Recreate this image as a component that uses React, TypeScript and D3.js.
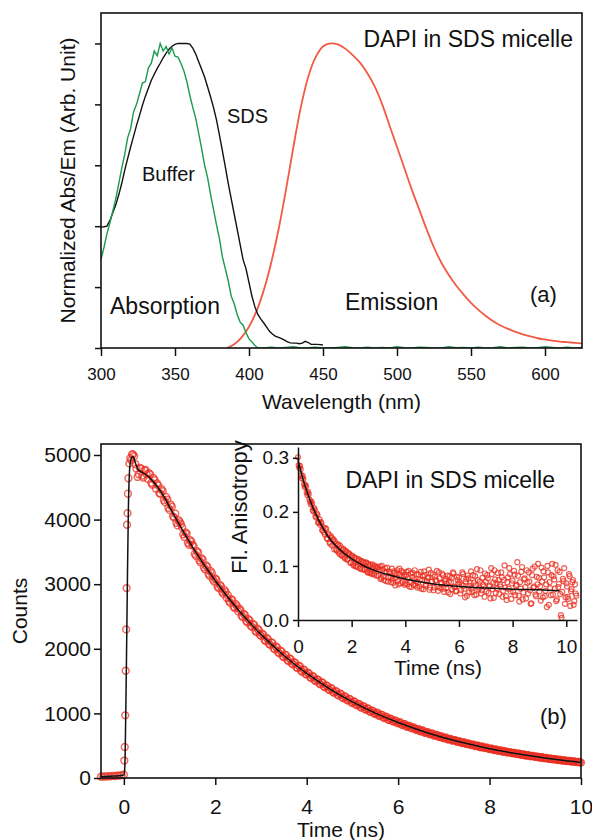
import { useEffect, useRef } from 'react'
import * as d3 from 'd3'

const FONT = "'Liberation Sans', Arial, Helvetica, sans-serif"
const RED = '#ea2c1e'

// ---- panel (a): normalized absorption / emission ----
const wlTicks = [300, 350, 400, 450, 500, 550, 600]
const normTicks = [0, 0.2, 0.4, 0.6, 0.8, 1.0]

// SDS absorption, 300-450 nm every 2 nm
const sdsAbs = [
    0.397, 0.398, 0.400, 0.418, 0.445, 0.470, 0.503, 0.540, 0.583, 0.622,
    0.660, 0.695, 0.731, 0.763, 0.797, 0.827, 0.853, 0.879, 0.899, 0.918,
    0.935, 0.953, 0.968, 0.981, 0.991, 0.997, 1.0, 1.0, 1.0, 1.0,
    0.998, 0.985, 0.965, 0.940, 0.915, 0.890, 0.858, 0.825, 0.790, 0.750,
    0.700, 0.648, 0.595, 0.540, 0.490, 0.440, 0.390, 0.340, 0.290, 0.260,
    0.215, 0.170, 0.135, 0.110, 0.095, 0.082, 0.068, 0.054, 0.045, 0.038,
    0.035, 0.031, 0.026, 0.020, 0.017, 0.016, 0.016, 0.014, 0.016, 0.022,
    0.018, 0.012, 0.012, 0.012, 0.011, 0.010
]
// buffer absorption, 300-406 nm every 2 nm
const bufferAbs = [
    0.290, 0.330, 0.375, 0.410, 0.450, 0.490, 0.540, 0.590, 0.635, 0.690,
    0.720, 0.775, 0.800, 0.835, 0.870, 0.875, 0.920, 0.935, 0.975, 0.960,
    1.0, 0.975, 0.990, 0.965, 0.985, 0.958, 0.955, 0.935, 0.910, 0.875,
    0.830, 0.790, 0.755, 0.705, 0.655, 0.600, 0.560, 0.505, 0.455, 0.405,
    0.360, 0.300, 0.260, 0.220, 0.170, 0.145, 0.110, 0.085, 0.075, 0.050,
    0.030, 0.020, 0.008, 0.0
]
// buffer baseline, 410-625 nm every 5 nm
const bufferTail = [
    0, 0.003, 0, 0.002, 0.004, 0, 0.001, 0.003, 0, 0,
    0.002, 0.004, 0.001, 0, 0.003, 0, 0.002, 0, 0.004, 0.001,
    0, 0.003, 0.002, 0, 0, 0.004, 0.001, 0.002, 0, 0.003,
    0, 0.001, 0.004, 0, 0.002, 0.003, 0, 0.001, 0.004, 0.002,
    0, 0.003, 0, 0.002
]
// emission, 385-625 nm every 5 nm
const emission = [
    0, 0.012, 0.035, 0.070, 0.120, 0.190, 0.280, 0.390, 0.520, 0.660,
    0.790, 0.890, 0.955, 0.990, 1.0, 0.997, 0.983, 0.962, 0.937, 0.902,
    0.858, 0.800, 0.730, 0.660, 0.590, 0.520, 0.455, 0.390, 0.330, 0.280,
    0.240, 0.205, 0.175, 0.148, 0.125, 0.105, 0.088, 0.074, 0.063, 0.053,
    0.045, 0.038, 0.032, 0.028, 0.024, 0.021, 0.019, 0.017, 0.015
]

// ---- panel (b): fluorescence decay ----
const timeTicks = [0, 2, 4, 6, 8, 10]
const countTicks = [0, 1000, 2000, 3000, 4000, 5000]

// baseline, -0.5 to 0 ns every 0.05 ns
const baseCounts = [20, 24, 22, 28, 26, 32, 30, 36, 38, 44, 52]
const riseTimes = [0.01, 0.02, 0.03, 0.04, 0.05, 0.06, 0.07, 0.08, 0.09, 0.1, 0.12, 0.14, 0.16, 0.18]
const riseCounts = [270, 480, 970, 1660, 2300, 2940, 3920, 4100, 4400, 4640, 4870, 4950, 4920, 5010]
// 0.2 to 10 ns every 0.05 ns
const decayCounts = [
    5010, 4860, 4660, 4800, 4680, 4760,
    4700, 4720, 4570, 4640, 4480, 4530, 4400, 4440, 4270, 4310,
    4150, 4200, 4030, 3950, 3990, 3930, 3770, 3800, 3640, 3680,
    3610, 3470, 3510, 3370, 3400, 3260, 3290, 3160, 3200, 3070,
    3090, 2960, 2990, 2880, 2910, 2790, 2740, 2770, 2650, 2690,
    2580, 2600, 2490, 2520, 2410, 2440, 2340, 2370, 2260, 2290,
    2200, 2220, 2120, 2150, 2060, 2090, 1990, 2020, 1930, 1960,
    1870, 1900, 1810, 1840, 1760, 1780, 1700, 1730, 1645, 1670,
    1600, 1620, 1545, 1570, 1500, 1520, 1450, 1475, 1405, 1425,
    1360, 1385, 1320, 1340, 1275, 1300, 1235, 1258, 1198, 1220,
    1160, 1182, 1125, 1145, 1088, 1110, 1055, 1072, 1020, 1040,
    990, 1006, 958, 975, 928, 945, 898, 916, 872, 886,
    845, 860, 818, 832, 792, 806, 768, 780, 742, 756,
    720, 733, 697, 710, 676, 688, 655, 666, 634, 645,
    614, 625, 595, 606, 577, 586, 558, 568, 541, 550,
    524, 533, 508, 517, 492, 500, 476, 485, 462, 470,
    447, 454, 433, 440, 420, 427, 407, 413, 394, 400,
    382, 388, 370, 376, 359, 364, 348, 352, 337, 341,
    326, 331, 316, 321, 306, 311, 297, 301, 287, 292,
    278, 282, 269, 274, 261, 265, 253, 257, 245, 249,
    237
]
// in-between channels, 0.225 to 9.975 ns every 0.05 ns
const decayCountsMid = [
    4980, 4790, 4700, 4790, 4650, 4770, 4630, 4700, 4540, 4610,
    4560, 4410, 4470, 4300, 4350, 4180, 4230, 4050, 4090, 3910,
    3960, 3880, 3730, 3780, 3610, 3660, 3590, 3440, 3490, 3340,
    3380, 3230, 3270, 3130, 3170, 3040, 3070, 2940, 2970, 2850,
    2880, 2830, 2710, 2750, 2630, 2660, 2620, 2510, 2540, 2430,
    2460, 2355, 2385, 2280, 2310, 2215, 2235, 2140, 2170, 2075,
    2100, 2010, 2035, 1945, 1970, 1885, 1910, 1825, 1850, 1770,
    1792, 1715, 1736, 1660, 1682, 1608, 1630, 1558, 1578, 1510,
    1528, 1462, 1480, 1416, 1434, 1372, 1390, 1330, 1346, 1288,
    1304, 1247, 1263, 1209, 1223, 1171, 1185, 1135, 1147, 1099,
    1112, 1065, 1076, 1032, 1043, 1000, 1010, 968, 979, 938,
    948, 909, 919, 881, 889, 853, 862, 827, 834, 801,
    808, 776, 783, 752, 758, 728, 735, 706, 711, 684,
    689, 662, 668, 642, 646, 622, 626, 603, 606, 584,
    587, 566, 568, 548, 551, 532, 534, 515, 517, 499,
    501, 484, 485, 469, 470, 454, 455, 439, 441, 425,
    427, 412, 414, 400, 401, 388, 389, 376, 377, 364,
    364, 352, 353, 341, 342, 331, 331, 320, 321, 311,
    311, 301, 301, 292, 292, 282, 283, 274, 273, 265,
    265, 257, 257, 249, 249, 241
]
const fitTimes = [
    -0.5, -0.3, -0.1, 0, 0.02, 0.04, 0.06, 0.08, 0.1, 0.12, 0.15, 0.2, 0.25, 0.3,
    0.4, 0.5, 0.6, 0.7, 0.8, 0.9, 1.0, 1.5, 2, 2.5, 3, 3.5, 4, 4.5, 5, 5.5,
    6, 6.5, 7, 7.5, 8, 8.5, 9, 9.5, 10
]
const fitCounts = [
    20, 28, 35, 45, 150, 900, 2000, 3200, 4200, 4700, 4920, 4977, 4880, 4790,
    4730, 4690, 4620, 4540, 4440, 4330, 4195, 3579, 3054, 2606, 2223, 1897, 1618, 1381, 1178, 1005,
    858, 732, 624, 533, 454, 388, 331, 282, 241
]

// ---- inset: anisotropy ----
const anisoTicks = [0, 0.1, 0.2, 0.3]
const insetTimeTicks = [0, 2, 4, 6, 8, 10]
// 0 to 10.35 ns every 0.05 ns
const anisotropy = [
    0.301, 0.281, 0.279, 0.262, 0.261, 0.246, 0.247, 0.231, 0.233, 0.219,
    0.219, 0.203, 0.207, 0.192, 0.197, 0.180, 0.186, 0.181, 0.166, 0.171,
    0.158, 0.168, 0.150, 0.157, 0.141, 0.152, 0.148, 0.131, 0.142, 0.128,
    0.140, 0.122, 0.133, 0.119, 0.131, 0.114, 0.126, 0.112, 0.123, 0.106,
    0.119, 0.104, 0.116, 0.099, 0.113, 0.110, 0.096, 0.109, 0.094, 0.107,
    0.093, 0.106, 0.088, 0.101, 0.102, 0.085, 0.099, 0.084, 0.097, 0.096,
    0.082, 0.099, 0.078, 0.093, 0.074, 0.096, 0.089, 0.071, 0.090, 0.080,
    0.095, 0.069, 0.087, 0.078, 0.092, 0.066, 0.084, 0.091, 0.070, 0.083,
    0.068, 0.089, 0.077, 0.062, 0.086, 0.080, 0.065, 0.092, 0.071, 0.060,
    0.084, 0.075, 0.058, 0.081, 0.090, 0.063, 0.072, 0.079, 0.056, 0.087,
    0.071, 0.055, 0.080, 0.074, 0.061, 0.088, 0.059, 0.069, 0.083, 0.052,
    0.076, 0.067, 0.051, 0.081, 0.070, 0.057, 0.086, 0.062, 0.054, 0.074,
    0.079, 0.049, 0.066, 0.085, 0.058, 0.071, 0.045, 0.077, 0.063, 0.090,
    0.052, 0.069, 0.081, 0.047, 0.074, 0.060, 0.092, 0.055, 0.066, 0.043,
    0.071, 0.083, 0.050, 0.064, 0.096, 0.057, 0.041, 0.075, 0.068, 0.087,
    0.048, 0.062, 0.079, 0.054, 0.101, 0.044, 0.070, 0.058, 0.085, 0.039,
    0.073, 0.091, 0.046, 0.065, 0.082, 0.034, 0.058, 0.098, 0.051, 0.077,
    0.040, 0.069, 0.088, 0.055, 0.031, 0.095, 0.062, 0.047, 0.080, 0.104,
    0.053, 0.036, 0.071, 0.090, 0.044, 0.066, 0.100, 0.028, 0.059, 0.083,
    0.047, 0.075, 0.102, 0.038, 0.061, 0.089, 0.009, 0.052, 0.072, 0.030,
    0.068, 0.043, 0.085, 0.026, 0.057, 0.074, 0.035, 0.049
]
// in-between channels, 0.025 to 10.375 ns every 0.05 ns
const anisotropyMid = [
    0.286, 0.285, 0.268, 0.266, 0.251, 0.250, 0.236, 0.237, 0.223, 0.214,
    0.215, 0.201, 0.204, 0.190, 0.194, 0.181, 0.176, 0.179, 0.166, 0.162,
    0.170, 0.151, 0.160, 0.144, 0.155, 0.138, 0.149, 0.145, 0.130, 0.139,
    0.125, 0.137, 0.120, 0.131, 0.116, 0.128, 0.112, 0.124, 0.121, 0.106,
    0.118, 0.101, 0.115, 0.100, 0.098, 0.112, 0.095, 0.109, 0.105, 0.093,
    0.106, 0.090, 0.104, 0.087, 0.089, 0.103, 0.086, 0.100, 0.082, 0.098,
    0.094, 0.076, 0.100, 0.081, 0.088, 0.072, 0.097, 0.079, 0.086, 0.070,
    0.075, 0.090, 0.064, 0.086, 0.072, 0.095, 0.068, 0.080, 0.088, 0.065,
    0.083, 0.066, 0.091, 0.070, 0.061, 0.087, 0.075, 0.064, 0.085, 0.069,
    0.062, 0.089, 0.074, 0.057, 0.083, 0.066, 0.078, 0.093, 0.060, 0.071,
    0.084, 0.060, 0.073, 0.091, 0.054, 0.077, 0.067, 0.086, 0.058, 0.072,
    0.059, 0.082, 0.070, 0.048, 0.078, 0.088, 0.061, 0.053, 0.080, 0.067,
    0.070, 0.055, 0.088, 0.063, 0.042, 0.076, 0.082, 0.051, 0.069, 0.058,
    0.083, 0.046, 0.064, 0.094, 0.057, 0.071, 0.049, 0.078, 0.062, 0.086,
    0.053, 0.077, 0.062, 0.040, 0.085, 0.069, 0.092, 0.050, 0.058, 0.074,
    0.066, 0.088, 0.043, 0.074, 0.060, 0.037, 0.079, 0.096, 0.053, 0.068,
    0.052, 0.084, 0.063, 0.107, 0.045, 0.070, 0.089, 0.038, 0.075, 0.061,
    0.092, 0.049, 0.071, 0.030, 0.083, 0.060, 0.099, 0.044, 0.066, 0.078,
    0.062, 0.097, 0.042, 0.079, 0.054, 0.024, 0.088, 0.070, 0.046, 0.104,
    0.081, 0.058, 0.035, 0.092, 0.067, 0.048, 0.004, 0.076, 0.096, 0.042,
    0.062, 0.039, 0.081, 0.053, 0.070, 0.028, 0.066, 0.045
]
const anisoFitTimes = [0, 0.25, 0.5, 0.75, 1, 1.25, 1.5, 2, 2.5, 3, 3.5, 4, 5, 6, 7, 8, 9, 9.75]
const anisoFit = [0.295, 0.25, 0.215, 0.187, 0.164, 0.146, 0.133, 0.113, 0.099, 0.089, 0.082, 0.076, 0.067, 0.062, 0.059, 0.057, 0.056, 0.054]

const zip = (xs: number[], ys: number[]) =>
    xs.slice(0, Math.min(xs.length, ys.length)).map((x, i) => [x, ys[i]] as [number, number])

function App() {
    const ref = useRef<SVGSVGElement>(null)

    useEffect(() => {
        const svg = d3.select(ref.current)
        svg.selectAll('*').remove()

        const text = (x: number, y: number, s: string, size: number, anchor = 'start', rotate = false) => {
            const t = svg.append('text')
                .attr('font-family', FONT)
                .attr('font-size', size)
                .attr('text-anchor', anchor)
                .attr('fill', '#111')
                .text(s)
            if (rotate) t.attr('transform', `translate(${x},${y}) rotate(-90)`)
            else t.attr('x', x).attr('y', y)
            return t
        }
        const styleAxis = (g: any, size: number) => {
            g.attr('font-family', FONT).attr('font-size', size)
            g.selectAll('line').attr('stroke', '#111').attr('stroke-width', 1.5)
            g.selectAll('text').attr('fill', '#111')
        }

        // ======== panel (a) ========
        const a = { left: 101, top: 13, right: 582, bottom: 348 }
        const xA = d3.scaleLinear().domain([300, 625]).range([a.left, a.right])
        const yA = d3.scaleLinear().domain([0, 1.1]).range([a.bottom, a.top])

        svg.append('clipPath').attr('id', 'clipA').append('rect')
            .attr('x', a.left).attr('y', a.top)
            .attr('width', a.right - a.left).attr('height', a.bottom - a.top)

        const lineA = d3.line<[number, number]>().x(d => xA(d[0])).y(d => yA(d[1]))

        const sdsWl = d3.range(300, 451, 2)
        const bufWl = d3.range(300, 407, 2)
        const tailWl = d3.range(410, 626, 5)
        const emWl = d3.range(385, 626, 5)

        const plotA = svg.append('g').attr('clip-path', 'url(#clipA)')
        plotA.append('path')
            .datum(zip(emWl, emission))
            .attr('d', lineA.curve(d3.curveCatmullRom.alpha(0.5)))
            .attr('fill', 'none').attr('stroke', '#f25a45').attr('stroke-width', 1.8)
        plotA.append('path')
            .datum(zip(sdsWl, sdsAbs))
            .attr('d', lineA.curve(d3.curveLinear))
            .attr('fill', 'none').attr('stroke', '#111').attr('stroke-width', 1.4)
        plotA.append('path')
            .datum(zip(bufWl, bufferAbs).concat(zip(tailWl, bufferTail)))
            .attr('d', lineA.curve(d3.curveLinear))
            .attr('fill', 'none').attr('stroke', '#1a9a4c').attr('stroke-width', 1.4)

        const gxA = svg.append('g').attr('transform', `translate(0,${a.bottom})`)
            .call(d3.axisBottom(xA).tickValues(wlTicks).tickSize(8).tickPadding(12).tickFormat(d3.format('d')))
        gxA.select('.domain').remove()
        styleAxis(gxA, 17)

        const gyA = svg.append('g').attr('transform', `translate(${a.left},0)`)
            .call(d3.axisLeft(yA).tickValues(normTicks).tickSize(6).tickFormat(() => ''))
        gyA.select('.domain').remove()
        styleAxis(gyA, 17)

        svg.append('rect')
            .attr('x', a.left).attr('y', a.top)
            .attr('width', a.right - a.left).attr('height', a.bottom - a.top)
            .attr('fill', 'none').attr('stroke', '#111').attr('stroke-width', 1.6)

        text((a.left + a.right) / 2, 409, 'Wavelength (nm)', 21, 'middle')
        text(75, (a.top + a.bottom) / 2, 'Normalized Abs/Em (Arb. Unit)', 21, 'middle', true)
        text(573, 47, 'DAPI in SDS micelle', 23, 'end')
        text(227, 123, 'SDS', 20)
        text(142, 181, 'Buffer', 20)
        text(110, 314, 'Absorption', 23)
        text(345, 310, 'Emission', 23)
        text(530, 302, '(a)', 22)

        // ======== panel (b) ========
        const b = { left: 101, top: 444, right: 581, bottom: 778 }
        const xB = d3.scaleLinear().domain([-0.5, 10]).range([b.left, b.right])
        const yB = d3.scaleLinear().domain([0, 5170]).range([b.bottom, b.top])

        const decayPts = zip(d3.range(-0.5, 0.001, 0.05), baseCounts)
            .concat(zip(riseTimes, riseCounts))
            .concat(zip(d3.range(0.2, 10.001, 0.05), decayCounts))
            .concat(zip(d3.range(0.225, 9.99, 0.05), decayCountsMid))

        svg.append('g').selectAll('circle')
            .data(decayPts)
            .join('circle')
            .attr('cx', d => xB(d[0]))
            .attr('cy', d => yB(d[1]))
            .attr('r', 3.4)
            .attr('fill', 'none')
            .attr('stroke', RED)
            .attr('stroke-opacity', 0.72)
            .attr('stroke-width', 1.5)

        svg.append('path')
            .datum(zip(fitTimes, fitCounts))
            .attr('d', d3.line<[number, number]>().x(d => xB(d[0])).y(d => yB(d[1])).curve(d3.curveMonotoneX))
            .attr('fill', 'none').attr('stroke', '#111').attr('stroke-width', 1.5)

        const gxB = svg.append('g').attr('transform', `translate(0,${b.bottom})`)
            .call(d3.axisBottom(xB).tickValues(timeTicks).tickSize(7).tickPadding(14).tickFormat(d3.format('d')))
        gxB.select('.domain').remove()
        styleAxis(gxB, 21)

        const gyB = svg.append('g').attr('transform', `translate(${b.left},0)`)
            .call(d3.axisLeft(yB).tickValues(countTicks).tickSize(7).tickPadding(3).tickFormat(d3.format('d')))
        gyB.select('.domain').remove()
        styleAxis(gyB, 21)

        svg.append('rect')
            .attr('x', b.left).attr('y', b.top)
            .attr('width', b.right - b.left).attr('height', b.bottom - b.top)
            .attr('fill', 'none').attr('stroke', '#111').attr('stroke-width', 1.6)

        text((b.left + b.right) / 2, 837, 'Time (ns)', 21, 'middle')
        text(27, (b.top + b.bottom) / 2, 'Counts', 21, 'middle', true)
        text(540, 724, '(b)', 22)

        // ======== inset ========
        const ins = { left: 298, right: 577, top: 447, bottom: 620 }
        const xI = d3.scaleLinear().domain([0, 10.4]).range([ins.left, ins.right])
        const yI = d3.scaleLinear().domain([0, 0.32]).range([ins.bottom, ins.top])

        const anisoPts = zip(d3.range(0, 10.351, 0.05), anisotropy)
            .concat(zip(d3.range(0.025, 10.38, 0.05), anisotropyMid))

        svg.append('g').selectAll('circle')
            .data(anisoPts)
            .join('circle')
            .attr('cx', d => xI(d[0]))
            .attr('cy', d => yI(d[1]))
            .attr('r', 2.5)
            .attr('fill', 'none')
            .attr('stroke', RED)
            .attr('stroke-opacity', 0.75)
            .attr('stroke-width', 1.2)

        svg.append('path')
            .datum(zip(anisoFitTimes, anisoFit))
            .attr('d', d3.line<[number, number]>().x(d => xI(d[0])).y(d => yI(d[1])).curve(d3.curveMonotoneX))
            .attr('fill', 'none').attr('stroke', '#111').attr('stroke-width', 1.5)

        const gxI = svg.append('g').attr('transform', `translate(0,${ins.bottom})`)
            .call(d3.axisBottom(xI).tickValues(insetTimeTicks).tickSize(7).tickPadding(13).tickSizeOuter(0).tickFormat(d3.format('d')))
        styleAxis(gxI, 19)
        gxI.select('.domain').attr('stroke', '#111').attr('stroke-width', 1.5)

        const gyI = svg.append('g').attr('transform', `translate(${ins.left},0)`)
            .call(d3.axisLeft(yI).tickValues(anisoTicks).tickSize(5).tickPadding(4).tickSizeOuter(0).tickFormat(d3.format('.1f')))
        styleAxis(gyI, 19)
        gyI.select('.domain').attr('stroke', '#111').attr('stroke-width', 1.5)

        text(438, 675, 'Time (ns)', 21, 'middle')
        text(247, 507, 'Fl. Anisotropy', 22, 'middle', true)
        text(555, 488, 'DAPI in SDS micelle', 23, 'end')
    }, [])

    return (
        <svg
            ref={ref}
            width={592}
            height={840}
            style={{ position: 'absolute', left: 0, top: 0, background: '#fff' }}
        />
    )
}

export default App
